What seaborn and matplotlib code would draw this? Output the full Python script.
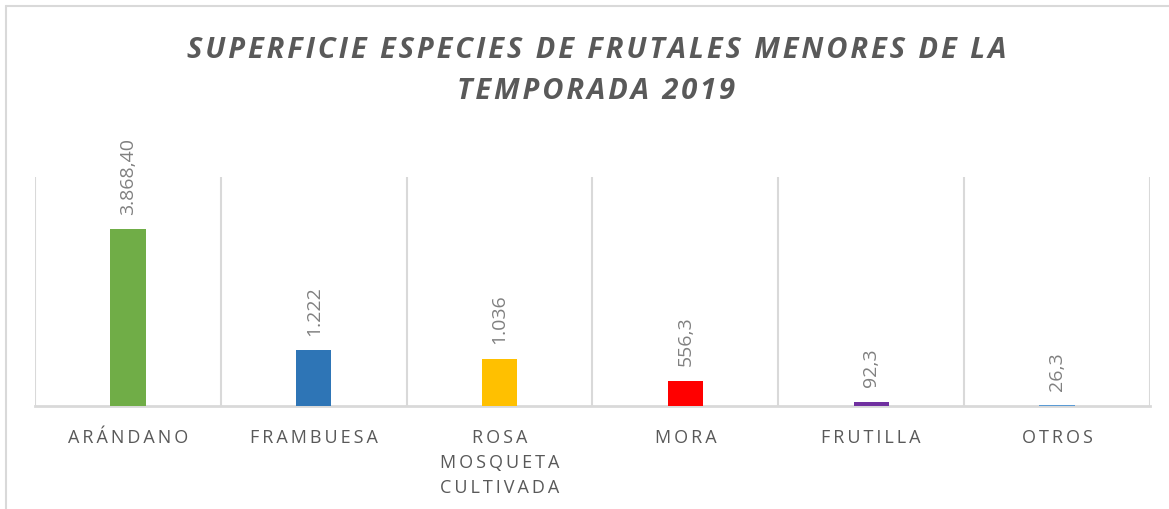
import matplotlib
matplotlib.use("Agg")
import matplotlib.pyplot as plt
from matplotlib.lines import Line2D
import seaborn as sns
import pandas as pd

categories = ["ARÁNDANO", "FRAMBUESA", "ROSA\nMOSQUETA\nCULTIVADA", "MORA", "FRUTILLA", "OTROS"]
values = [3868.4, 1222, 1036, 556.3, 92.3, 26.3]
value_labels = ["3.868,40", "1.222", "1.036", "556,3", "92,3", "26,3"]
colors = ["#70AD47", "#2E75B6", "#FFC000", "#FF0000", "#7030A0", "#5B9BD5"]
title = "SUPERFICIE ESPECIES DE FRUTALES MENORES DE LA\nTEMPORADA 2019"

sns.set_theme(style="white")
FAM = ["Open Sans", "DejaVu Sans"]
plt.rcParams["font.family"] = FAM

W, H = 1169, 510
fig = plt.figure(figsize=(W / 100, H / 100), dpi=100)
ax = fig.add_axes([35 / W, (H - 407) / H, (1150 - 35) / W, (407 - 178) / H])

df = pd.DataFrame({"cat": categories, "val": values})
sns.barplot(data=df, x="cat", y="val", hue="cat", palette=colors, legend=False,
            width=0.19, ax=ax, saturation=1, zorder=3, linewidth=0)

ax.set_xlim(-0.5, len(categories) - 0.5)
ax.set_ylim(0, 5000)
grid_c = "#D9D9D9"
for i in range(len(categories) + 1):
    ax.axvline(i - 0.5, color=grid_c, lw=1.5, zorder=0)
for s in ["top", "right", "left"]:
    ax.spines[s].set_visible(False)
ax.spines["bottom"].set_color(grid_c)
ax.spines["bottom"].set_linewidth(2)
ax.spines["bottom"].set_zorder(2)
ax.set_yticks([])
ax.set_xlabel("")
ax.set_ylabel("")


def spaced(s, sp="\u2009"):
    return "\n".join(sp.join(line) for line in s.split("\n"))


ax.set_xticks(range(len(categories)))
ax.set_xticklabels([spaced(c) for c in categories], color="#595959", fontsize=13,
                   family=FAM, linespacing=1.5)
ax.tick_params(axis="x", length=0, pad=16)

for i, (v, lab) in enumerate(zip(values, value_labels)):
    ax.annotate(lab, (i, v), xytext=(0, 11), textcoords="offset points",
                rotation=90, ha="center", va="bottom", color="#808080",
                fontsize=14, family=FAM)

fig.text(0.51, 1 - 71 / H, spaced(title, "\u200a"), ha="center", va="center",
         fontsize=21, fontweight="bold", fontstyle="italic", color="#595959",
         family=FAM, linespacing=1.55)

fig.add_artist(Line2D([5.5 / W, 1], [1 - 7 / H, 1 - 7 / H], color=grid_c, lw=1.5,
                      transform=fig.transFigure))
fig.add_artist(Line2D([5.5 / W, 5.5 / W], [0, 1 - 7 / H], color=grid_c, lw=1.5,
                      transform=fig.transFigure))

fig.savefig("out.png", dpi=100)
